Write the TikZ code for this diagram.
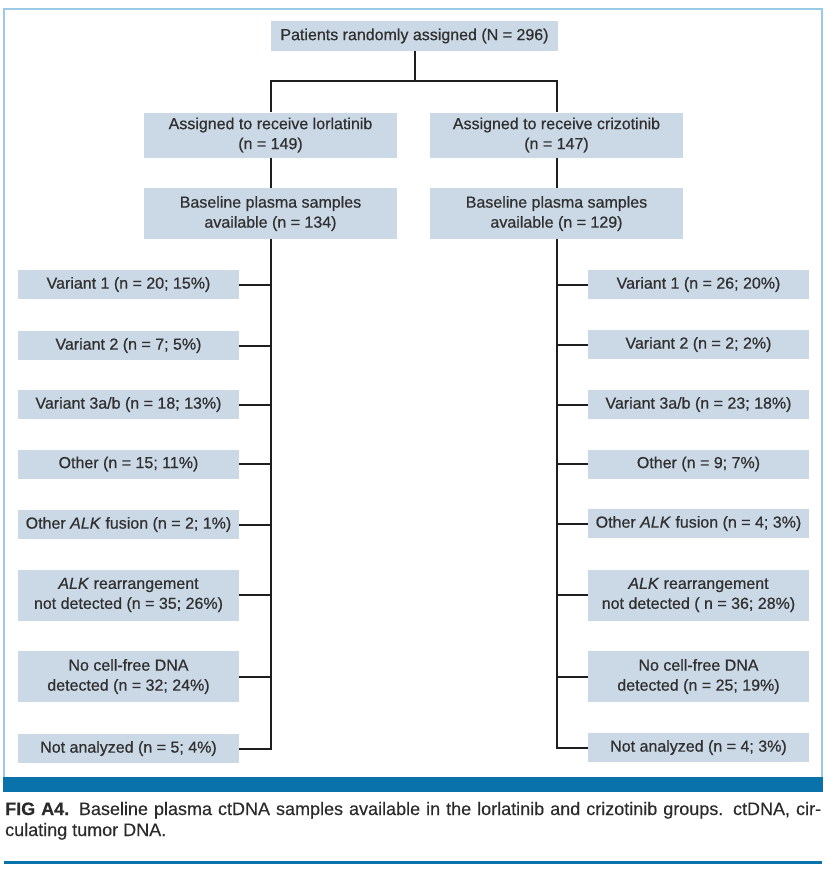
\documentclass[tikz,border=0pt]{standalone}
\usepackage{fontspec}
\setmainfont{Liberation Sans}
\newfontfamily\boxfont{Liberation Sans}[FakeBold=0.6]
\newfontfamily\capfont{Liberation Sans}[FakeBold=0.3]
\definecolor{boxfill}{HTML}{CBD8E5}
\definecolor{txt}{HTML}{303030}
\definecolor{linec}{HTML}{1E1E1E}
\definecolor{framec}{HTML}{9ACAE6}
\definecolor{barc}{HTML}{0A72AA}
\definecolor{captext}{HTML}{2B2B2B}
\tikzset{
  box/.style={fill=boxfill, text=txt, inner sep=0pt, align=center,
    font=\boxfont\fontsize{16}{20}\selectfont},
  leaf/.style={box, minimum width=221, minimum height=29},
  leaftwo/.style={box, minimum width=221, minimum height=51},
  conn/.style={draw=linec, line width=2pt},
}
\begin{document}
\begin{tikzpicture}[x=1pt,y=-1pt]
\useasboundingbox (0,0) rectangle (828,871);
% frame
\draw[framec, line width=2pt] (4,9) rectangle (822,784);
\fill[barc] (3,777) rectangle (823,792);
% top part
\node[box, minimum width=287, minimum height=30] (top) at (414.5,36) {Patients randomly assigned (N = 296)};
\node[box, minimum width=253, minimum height=45] (lor) at (270.5,135) {Assigned to receive lorlatinib\\(n = 149)};
\node[box, minimum width=253, minimum height=45] (cri) at (556.5,135) {Assigned to receive crizotinib\\(n = 147)};
\node[box, minimum width=253, minimum height=51] (baseL) at (270.5,213.5) {Baseline plasma samples\\available (n = 134)};
\node[box, minimum width=253, minimum height=51] (baseR) at (556.5,213.5) {Baseline plasma samples\\available (n = 129)};
\coordinate (jn) at (414.5,81);
\draw[conn] (top.south) -- (jn);
\draw[conn] (lor.north) |- (jn) -| (cri.north);
\draw[conn] (lor.south) -- (baseL.north);
\draw[conn] (cri.south) -- (baseR.north);
% left leaves
\node[leaf] (v1L) at (128.5,284.5) {Variant 1 (n = 20; 15\%)};
\node[leaf] (v2L) at (128.5,345.5) {Variant 2 (n = 7; 5\%)};
\node[leaf] (v3L) at (128.5,404.5) {Variant 3a/b (n = 18; 13\%)};
\node[leaf] (otL) at (128.5,464) {Other (n = 15; 11\%)};
\node[leaf] (oaL) at (128.5,524.5) {Other \textit{ALK} fusion (n = 2; 1\%)};
\node[leaftwo] (arL) at (128.5,595) {\textit{ALK} rearrangement\\not detected (n = 35; 26\%)};
\node[leaftwo] (cfL) at (128.5,676.5) {No cell-free DNA\\detected (n = 32; 24\%)};
\node[leaf] (naL) at (128.5,748.5) {Not analyzed (n = 5; 4\%)};
% right leaves
\node[leaf] (v1R) at (698.5,284.5) {Variant 1 (n = 26; 20\%)};
\node[leaf] (v2R) at (698.5,344.5) {Variant 2 (n = 2; 2\%)};
\node[leaf] (v3R) at (698.5,404.5) {Variant 3a/b (n = 23; 18\%)};
\node[leaf] (otR) at (698.5,464) {Other (n = 9; 7\%)};
\node[leaf] (oaR) at (698.5,523.5) {Other \textit{ALK} fusion (n = 4; 3\%)};
\node[leaftwo] (arR) at (698.5,595) {\textit{ALK} rearrangement\\not detected ( n = 36; 28\%)};
\node[leaftwo] (cfR) at (698.5,676.5) {No cell-free DNA\\detected (n = 25; 19\%)};
\node[leaf] (naR) at (698.5,747.5) {Not analyzed (n = 4; 3\%)};
% trunks
\draw[conn] (baseL.south) |- (naL.east);
\draw[conn] (baseR.south) |- (naR.west);
\foreach \n in {v1L,v2L,v3L,otL,oaL,arL,cfL}
  \draw[conn] (\n.east) -- (\n.east -| baseL.south);
\foreach \n in {v1R,v2R,v3R,otR,oaR,arR,cfR}
  \draw[conn] (\n.west) -- (\n.west -| baseR.south);
% caption
\node[anchor=base west, inner sep=0pt, text=captext, font=\capfont\fontsize{18}{21}\selectfont] (cap1) at (5,815)
  {\makebox[816pt][s]{\textbf{FIG A4.} Baseline plasma ctDNA samples available in the lorlatinib and crizotinib groups. ctDNA, cir-}};
\node[anchor=base west, inner sep=0pt, text=captext, font=\capfont\fontsize{18}{21}\selectfont] (cap2) at (5,836)
  {culating tumor DNA.};
\draw[barc, line width=2.5pt] (4,862.5) -- (822,862.5);
\end{tikzpicture}
\end{document}
